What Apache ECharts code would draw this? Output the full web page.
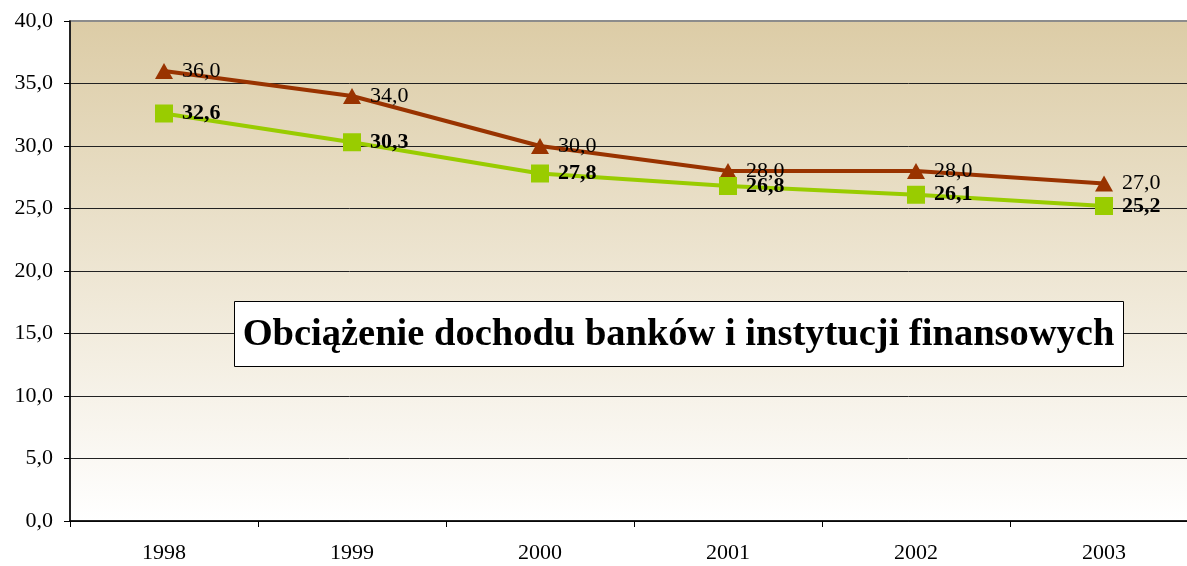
<!DOCTYPE html>
<html><head><meta charset="utf-8">
<script src="https://cdn.jsdelivr.net/npm/echarts@6/dist/echarts.min.js"></script>
<style>html,body{margin:0;padding:0;background:#fff}#c{width:1187px;height:566px}</style>
</head><body><div id="c"></div>
<script>
var categories = ['1998','1999','2000','2001','2002','2003'];
var seriesBrown = [36.0, 34.0, 30.0, 28.0, 28.0, 27.0];
var seriesGreen = [32.6, 30.3, 27.8, 26.8, 26.1, 25.2];
var titleText = 'Obciążenie dochodu banków i instytucji finansowych';
var fmt = function(v){ return Number(v).toFixed(1).replace('.', ','); };
var serif = '"Liberation Serif","Times New Roman",serif';
var chart = echarts.init(document.getElementById('c'), null, {renderer:'canvas'});
chart.setOption({
  animation:false,
  grid:{left:70, top:21, width:1128, bottom:45, outerBoundsMode:'none', containLabel:false, show:true, borderColor:'#8c8c8c', borderWidth:2,
    backgroundColor:new echarts.graphic.LinearGradient(0,0,0,1,[{offset:0,color:'#dccca6'},{offset:1,color:'#ffffff'}])},
  xAxis:{type:'category', data:categories, boundaryGap:true,
    axisLine:{lineStyle:{color:'#000', width:1.5}},
    axisTick:{show:true, length:6, lineStyle:{color:'#000'}},
    axisLabel:{fontFamily:serif, fontSize:22, color:'#000', margin:21}},
  yAxis:{type:'value', min:0, max:40, interval:5,
    axisLine:{show:true, lineStyle:{color:'#000', width:1.5}},
    axisTick:{show:true, length:6, lineStyle:{color:'#000'}},
    axisLabel:{fontFamily:serif, fontSize:22, color:'#000', margin:17, formatter:fmt},
    splitLine:{show:true, showMaxLine:false, lineStyle:{color:'#222', width:1}}},
  series:[
    {name:'a', type:'line', data:seriesBrown, symbol:'triangle', symbolSize:[18,16],
      lineStyle:{color:'#993300', width:4}, itemStyle:{color:'#993300'},
      label:{show:true, position:'right', distance:9, fontFamily:serif, fontSize:22, color:'#000', formatter:function(p){return fmt(p.value);}}},
    {name:'b', type:'line', data:seriesGreen, symbol:'rect', symbolSize:18,
      lineStyle:{color:'#99cc00', width:4}, itemStyle:{color:'#99cc00'},
      label:{show:true, position:'right', distance:9, fontFamily:serif, fontSize:22, fontWeight:'bold', color:'#000', formatter:function(p){return fmt(p.value);}}}
  ],
  graphic:[
    {type:'rect', z:100, shape:{x:234.5, y:301.5, width:889, height:65}, style:{fill:'#fff', stroke:'#000', lineWidth:1}},
    {type:'text', z:101, x:678.5, y:335, style:{text:titleText, fontFamily:serif, fontSize:38.5, fontWeight:'bold', fill:'#000', align:'center', verticalAlign:'middle'}}
  ]
});
</script></body></html>
